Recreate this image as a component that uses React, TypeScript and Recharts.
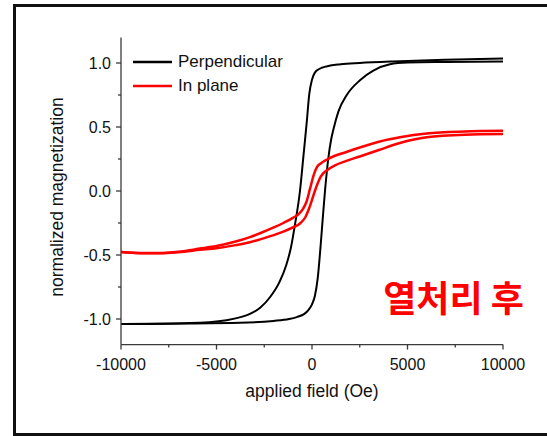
import React from "react";
import { LineChart, Line, XAxis, YAxis, Legend } from "recharts";

// Perpendicular loop: descending branch (from +H saturation) and ascending branch
const perpDownX = [-10000, -7000, -5000, -4000, -3250, -2700, -2200, -1700, -1350, -1100, -900, -630, -450, -280, -140, 0, 150, 400, 800, 1500, 2500, 4240, 7000, 10000];
const perpDownY = [-1.04, -1.035, -1.02, -0.995, -0.96, -0.91, -0.83, -0.71, -0.58, -0.44, -0.27, 0.0, 0.27, 0.53, 0.76, 0.87, 0.925, 0.955, 0.975, 0.99, 1.0, 1.012, 1.025, 1.035];
const perpUpX = [-10000, -7000, -3770, -2020, -1200, -800, -400, -190, 0, 150, 300, 450, 560, 680, 850, 1000, 1120, 1380, 1820, 2510, 3210, 4080, 5000, 7000, 10000];
const perpUpY = [-1.04, -1.036, -1.03, -1.015, -1.0, -0.985, -0.96, -0.93, -0.885, -0.82, -0.68, -0.43, -0.22, 0.0, 0.25, 0.4, 0.48, 0.62, 0.75, 0.865, 0.94, 0.99, 1.003, 1.008, 1.012];

// In-plane loop
const inDownX = [-10000, -9000, -8000, -7000, -5860, -5000, -4000, -3250, -2720, -2000, -1500, -1000, -700, -470, -280, -100, 100, 250, 450, 900, 1800, 2500, 3500, 4600, 6000, 8000, 10000];
const inDownY = [-0.477, -0.485, -0.484, -0.474, -0.45, -0.43, -0.395, -0.36, -0.33, -0.285, -0.25, -0.21, -0.18, -0.14, -0.08, 0.02, 0.13, 0.185, 0.215, 0.255, 0.305, 0.34, 0.385, 0.42, 0.45, 0.465, 0.47];
const inUpX = [-10000, -9000, -8000, -7000, -5860, -5000, -4000, -3250, -2720, -2000, -1500, -1000, -600, -350, -150, 0, 150, 300, 450, 600, 800, 1200, 1800, 2500, 3500, 4600, 6000, 8000, 10000];
const inUpY = [-0.477, -0.486, -0.486, -0.478, -0.46, -0.447, -0.423, -0.4, -0.378, -0.345, -0.318, -0.285, -0.25, -0.205, -0.135, -0.07, 0.0, 0.06, 0.11, 0.14, 0.165, 0.2, 0.235, 0.27, 0.32, 0.375, 0.42, 0.44, 0.445];

const xTicks = [-10000, -7500, -5000, -2500, 0, 2500, 5000, 7500, 10000];
const yTicks = [-1.0, -0.75, -0.5, -0.25, 0.0, 0.25, 0.5, 0.75, 1.0];

const seriesNames = ["Perpendicular", "In plane"];
const seriesColors = ["#000000", "#ff0000"];

const toPts = (xs: number[], ys: number[]) => xs.map((x, i) => ({ x, y: ys[i] }));

const FONT = "'Liberation Sans', Arial, sans-serif";
const AXIS = "#3a3a3a";

const YTick = (props: any) => {
  const { x, y, payload } = props;
  const v = payload.value as number;
  const major = Math.abs(v * 2 - Math.round(v * 2)) < 1e-6;
  return (
    <g>
      <line x1={x - (major ? 5 : 3)} x2={x} y1={y} y2={y} stroke={AXIS} strokeWidth={1.3} />
      {major && (
        <text x={x - 10} y={y} dy="0.36em" textAnchor="end" fontSize={16} fontFamily={FONT} fill="#111">
          {v.toFixed(1)}
        </text>
      )}
    </g>
  );
};

const XTick = (props: any) => {
  const { x, y, payload } = props;
  const v = payload.value as number;
  const major = v % 5000 === 0;
  return (
    <g>
      <line x1={x} x2={x} y1={y} y2={y + (major ? 5 : 3)} stroke={AXIS} strokeWidth={1.3} />
      {major && (
        <text x={x} y={y + 25} textAnchor="middle" fontSize={16} fontFamily={FONT} fill="#111">
          {String(v)}
        </text>
      )}
    </g>
  );
};

const LegendContent = () => (
  <div style={{ fontFamily: FONT, fontSize: 17, color: "#111" }}>
    {seriesNames.map((n, i) => (
      <div key={n} style={{ display: "flex", alignItems: "center", height: 23.7 }}>
        <svg width={39} height={6} style={{ display: "block" }}>
          <line x1={0} x2={39} y1={3} y2={3} stroke={seriesColors[i]} strokeWidth={2.5} />
        </svg>
        <span style={{ marginLeft: 6, lineHeight: "20px" }}>{n}</span>
      </div>
    ))}
  </div>
);

export default function App() {
  return (
    <div style={{ position: "absolute", left: 0, top: 0, width: 547, height: 436, background: "#fff", overflow: "hidden" }}>
      <div
        style={{
          position: "absolute",
          left: 13,
          top: 4,
          width: 560,
          height: 432,
          border: "3px solid #111",
          boxSizing: "border-box",
        }}
      />
      <div style={{ position: "absolute", left: 0, top: 0 }}>
        <LineChart width={547} height={436} margin={{ top: 37.4, right: 44, bottom: 61.4, left: 0 }}>
          <XAxis
            type="number"
            dataKey="x"
            domain={[-10000, 10000]}
            ticks={xTicks}
            interval={0}
            tickSize={0}
            tickMargin={0}
            tickLine={false}
            tick={<XTick />}
            height={30}
            axisLine={{ stroke: AXIS, strokeWidth: 1.3 }}
            allowDataOverflow
          />
          <YAxis
            type="number"
            dataKey="y"
            domain={[-1.2, 1.2]}
            ticks={yTicks}
            interval={0}
            tickSize={0}
            tickMargin={0}
            tickLine={false}
            tick={<YTick />}
            width={121}
            axisLine={{ stroke: AXIS, strokeWidth: 1.3 }}
            allowDataOverflow
          />
          <Legend
            layout="horizontal"
            verticalAlign="middle"
            align="center"
            content={<LegendContent />}
            wrapperStyle={{ position: "absolute", left: 133, top: 50.5, width: 200 }}
          />
          <Line data={toPts(perpDownX, perpDownY)} dataKey="y" name={seriesNames[0]} type="monotone" stroke={seriesColors[0]} strokeWidth={2} dot={false} isAnimationActive={false} />
          <Line data={toPts(perpUpX, perpUpY)} dataKey="y" name={seriesNames[0] + " "} legendType="none" type="monotone" stroke={seriesColors[0]} strokeWidth={2} dot={false} isAnimationActive={false} />
          <Line data={toPts(inDownX, inDownY)} dataKey="y" name={seriesNames[1]} type="monotone" stroke={seriesColors[1]} strokeWidth={2.5} dot={false} isAnimationActive={false} />
          <Line data={toPts(inUpX, inUpY)} dataKey="y" name={seriesNames[1] + " "} legendType="none" type="monotone" stroke={seriesColors[1]} strokeWidth={2.5} dot={false} isAnimationActive={false} />
        </LineChart>
      </div>
      <svg width={547} height={436} style={{ position: "absolute", left: 0, top: 0, pointerEvents: "none" }}>
        <text x={57} y={197} transform="rotate(-90 57 197)" textAnchor="middle" dy="0.36em" fontSize={17.5} fontFamily={FONT} fill="#111">
          normalized magnetization
        </text>
        <text x={312} y={397} textAnchor="middle" fontSize={17.5} fontFamily={FONT} fill="#111">
          applied field (Oe)
        </text>
        <text x={453.5} y={312} textAnchor="middle" fontSize={36} fontWeight={700} fontFamily="'Noto Sans CJK KR', sans-serif" fill="#ff0000">
          열처리 후
        </text>
      </svg>
    </div>
  );
}
